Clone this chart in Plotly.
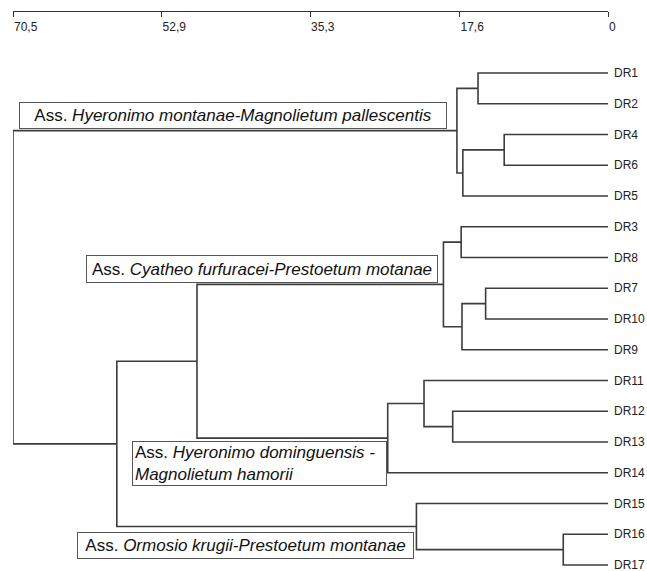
import plotly.graph_objects as go

# ---------------- data ----------------
leaves = ["DR1", "DR2", "DR4", "DR6", "DR5", "DR3", "DR8", "DR7", "DR10", "DR9",
          "DR11", "DR12", "DR13", "DR14", "DR15", "DR16", "DR17"]

merge_names = ["N1", "N2", "N3", "N4", "N5", "N6", "N7", "N8",
               "N9", "N10", "N11", "N12", "N13", "N14", "N15", "N16"]
merge_left = ["DR1", "DR4", "N2", "N1", "DR3", "DR7", "N6", "N5",
              "DR12", "DR11", "N10", "DR16", "DR15", "N8", "N14", "N4"]
merge_right = ["DR2", "DR6", "DR5", "N3", "DR8", "DR10", "DR9", "N7",
               "DR13", "N9", "DR14", "DR17", "N12", "N11", "N13", "N15"]
merge_height = [15.4, 12.3, 17.2, 17.9, 17.4, 14.5, 17.3, 19.5,
                18.4, 21.8, 26.1, 5.3, 22.7, 48.7, 58.2, 70.5]

tick_vals = [70.5, 52.9, 35.3, 17.6, 0]
tick_text = ["70,5", "52,9", "35,3", "17,6", "0"]

group_labels = [
    "Ass. <i>Hyeronimo montanae-Magnolietum pallescentis</i>",
    "Ass. <i>Cyatheo furfuracei-Prestoetum motanae</i>",
    "Ass. <i>Hyeronimo dominguensis -</i><br><i>Magnolietum hamorii</i>",
    "Ass. <i>Ormosio krugii-Prestoetum montanae</i>",
]

# ---------------- build dendrogram segments ----------------
pos = {name: i + 1 for i, name in enumerate(leaves)}
hgt = {name: 0.0 for name in leaves}
xs, ys = [], []
for name, a, b, h in zip(merge_names, merge_left, merge_right, merge_height):
    ya, yb = pos[a], pos[b]
    xs += [hgt[a], h, h, hgt[b], None]
    ys += [ya, ya, yb, yb, None]
    pos[name] = (ya + yb) / 2.0
    hgt[name] = h

fig = go.Figure()
fig.add_trace(go.Scatter(x=xs, y=ys, mode="lines",
                         line=dict(color="#3c3c3c", width=1.6),
                         hoverinfo="skip", showlegend=False))

NARROW = "Liberation Sans Narrow, Arial Narrow, Liberation Sans, Arial"

# leaf labels
for name in leaves:
    fig.add_annotation(x=0, y=pos[name], xref="x", yref="y", text=name,
                       showarrow=False, xanchor="left", yanchor="middle", xshift=4,
                       font=dict(family=NARROW, size=12, color="#222222"))

# ---------------- layout geometry (pixels) ----------------
W, H = 647, 571
L, R, T, B = 13, 39, 11, 0
pw, ph = W - L - R, H - T - B


def px_x(px):
    return (px - L) / pw


def px_y(py):
    return 1 - (py - T) / ph


boxes = [  # left, top, right, bottom (pixels)
    (19, 102, 447, 129),
    (86, 255, 438, 283),
    (132, 441, 387, 486),
    (77, 532, 414, 559),
]
for text, (x0, y0, x1, y1) in zip(group_labels, boxes):
    fig.add_annotation(x=px_x(x0), y=px_y((y0 + y1) / 2), xref="paper", yref="paper",
                       text=text, showarrow=False, xanchor="left", yanchor="middle",
                       align="left" if "<br>" in text else "center",
                       width=(x1 - x0) - 6, height=(y1 - y0) - 6,
                       bordercolor="#555555", borderwidth=1, borderpad=2,
                       bgcolor="white",
                       font=dict(family="Liberation Sans, Arial", size=17, color="#111111"))

ny0 = 1 - (73 - T) / 30.75
ny1 = ny0 + ph / 30.75

fig.update_layout(
    width=W, height=H,
    margin=dict(l=L, r=R, t=T, b=B),
    paper_bgcolor="white", plot_bgcolor="white",
    xaxis=dict(range=[70.5, 0], anchor="free", position=1, side="bottom",
               showgrid=False, zeroline=False, showline=True,
               linecolor="#333333", linewidth=1,
               ticks="outside", ticklen=5, tickcolor="#333333", tickwidth=1,
               tickvals=tick_vals, ticktext=tick_text,
               ticklabelposition="outside right", ticklabelstandoff=5,
               tickfont=dict(family=NARROW, size=12, color="#222222")),
    yaxis=dict(range=[ny1, ny0], visible=False, showgrid=False, zeroline=False),
)

fig.write_html("out.html", config={"displayModeBar": False},
               post_script="document.body.style.margin='0';document.body.style.padding='0';")
